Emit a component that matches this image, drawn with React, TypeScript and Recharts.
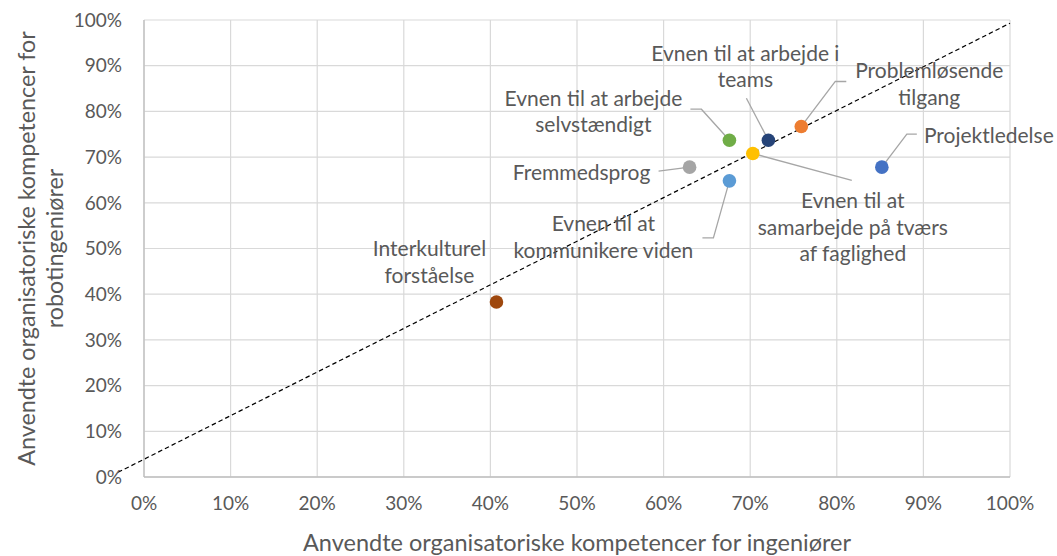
import { CartesianGrid, Label, ReferenceLine, Scatter, ScatterChart, XAxis, YAxis } from "recharts";

// one point per competence; line breaks follow the wrapped labels in the original
const names = [
  "Evnen til at\nkommunikere viden",
  "Problemløsende\ntilgang",
  "Fremmedsprog",
  "Evnen til at\nsamarbejde på tværs\naf faglighed",
  "Projektledelse",
  "Evnen til at arbejde\nselvstændigt",
  "Evnen til at arbejde i\nteams",
  "Interkulturel\nforståelse"
];
const ingeniorer = [0.676, 0.759, 0.63, 0.703, 0.852, 0.676, 0.721, 0.407];
const robotingeniorer = [0.648, 0.767, 0.678, 0.708, 0.678, 0.737, 0.737, 0.383];
const ticks = [0, 0.1, 0.2, 0.3, 0.4, 0.5, 0.6, 0.7, 0.8, 0.9, 1];
// dashed reference line, start and end values
const diagonal = [
  { x: -0.03, y: 0.0102 },
  { x: 1, y: 0.993 }
];

const colors = ["#5b9bd5", "#ed7d31", "#a5a5a5", "#ffc000", "#4472c4", "#70ad47", "#264478", "#9e480e"];

// label placement in px, relative to the marker (text centre of first line + leader bends)
const labelLayout = [
  { dx: -126, dy: 43, leader: [[-16, 57], [-27, 57]] },
  { dx: 128, dy: -56, leader: [[34, -45], [45, -45]] },
  { dx: -108, dy: 5, leader: [[-31, 4]] },
  { dx: 100, dy: 47, leader: [[99, 27]] },
  { dx: 107, dy: -32, leader: [[25, -33], [35, -33]] },
  { dx: -136, dy: -42, leader: [[-28, -31], [-39, -31]] },
  { dx: -23, dy: -87, leader: [[-22, -42]] },
  { dx: -67, dy: -53, leader: [] as number[][] }
];

const data = names.map((name, i) => ({ i, name, x: ingeniorer[i], y: robotingeniorer[i] }));

const FONT = "Lato, 'Open Sans', sans-serif";
const TEXT = "#595959";
const pct = (v: number) => `${Math.round(v * 100)}%`;

function Point(props: any) {
  const { cx, cy, payload } = props;
  const i = payload.i;
  const lay = labelLayout[i];
  const lines = String(payload.name).split("\n");
  const pts = [[0, 0], ...lay.leader].map(([a, b]) => `${cx + a},${cy + b}`).join(" ");
  return (
    <g>
      {lay.leader.length > 0 && <polyline points={pts} fill="none" stroke="#a6a6a6" strokeWidth={1.3} />}
      <text fontFamily={FONT} fontSize={21} fill={TEXT} textAnchor="middle">
        {lines.map((l, k) => (
          <tspan key={k} x={cx + lay.dx} y={cy + lay.dy + k * 26.8} dy="0.35em">
            {l}
          </tspan>
        ))}
      </text>
      <circle cx={cx} cy={cy} r={6.8} fill={colors[i]} />
    </g>
  );
}

function YTitle(props: any) {
  const vb = props.viewBox;
  const cy = vb.y + vb.height / 2;
  return (
    <g fontFamily={FONT} fontSize={23.3} fill={TEXT} textAnchor="middle">
      <text x={27} y={cy} dy="0.35em" transform={`rotate(-90, 27, ${cy})`}>
        Anvendte organisatoriske kompetencer for
      </text>
      <text x={55} y={cy} dy="0.35em" transform={`rotate(-90, 55, ${cy})`}>
        robotingeniører
      </text>
    </g>
  );
}

export default function App() {
  const tick = { fontFamily: FONT, fontSize: 19, fill: TEXT };
  return (
    <div style={{ position: "absolute", left: 0, top: 0, background: "#fff" }}>
      <ScatterChart width={1057} height={556} margin={{ top: 20, right: 47, bottom: 0, left: 0 }}>
        <CartesianGrid stroke="#d9d9d9" strokeWidth={1.2} />
        <XAxis
          type="number"
          dataKey="x"
          domain={[0, 1]}
          ticks={ticks}
          tickFormatter={pct}
          height={79}
          tick={tick}
          tickLine={false}
          tickSize={0}
          tickMargin={20}
          axisLine={{ stroke: "#bfbfbf", strokeWidth: 1.3 }}
        >
          <Label
            value="Anvendte organisatoriske kompetencer for ingeniører"
            position="insideBottom"
            offset={5}
            style={{ fontFamily: FONT, fontSize: 23.5, fill: TEXT }}
          />
        </XAxis>
        <YAxis
          type="number"
          dataKey="y"
          domain={[0, 1]}
          ticks={ticks}
          tickFormatter={pct}
          width={144}
          tick={tick}
          tickLine={false}
          tickSize={0}
          tickMargin={22}
          axisLine={{ stroke: "#bfbfbf", strokeWidth: 1.3 }}
        >
          <Label content={YTitle} />
        </YAxis>
        <Scatter data={data} shape={Point} isAnimationActive={false} />
        <ReferenceLine
          segment={diagonal}
          stroke="#000"
          strokeWidth={1.2}
          strokeDasharray="4.5 3"
          ifOverflow="visible"
        />
      </ScatterChart>
    </div>
  );
}
